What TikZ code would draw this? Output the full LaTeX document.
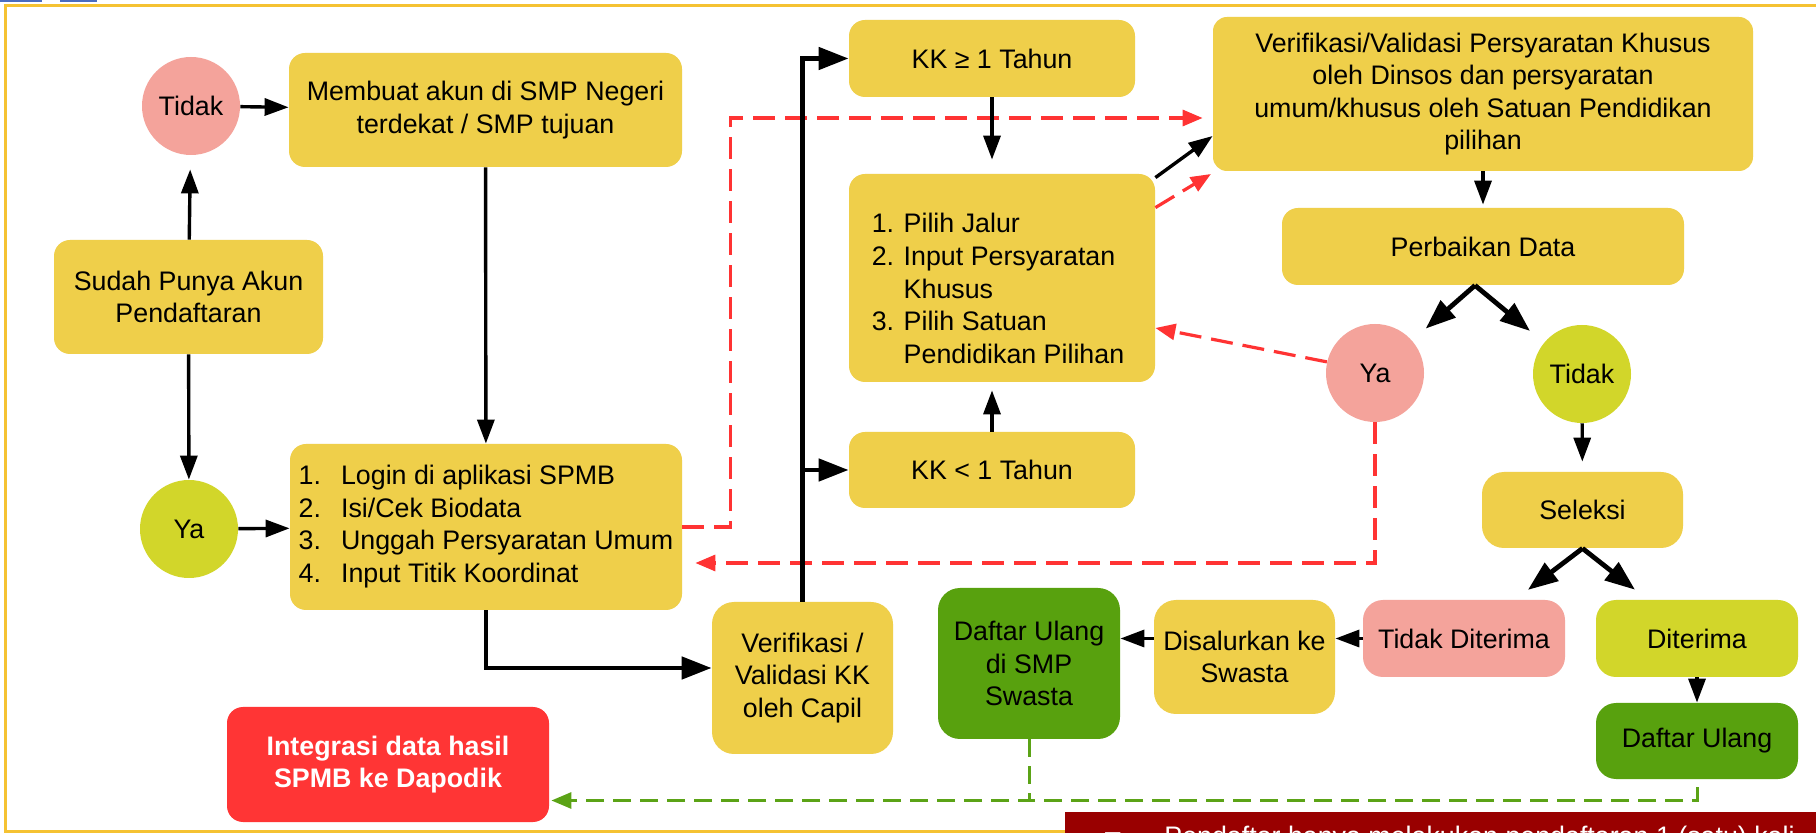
\documentclass[tikz,border=0pt]{standalone}
\usepackage{fontspec}
\setmainfont{Liberation Sans}
\newfontfamily\simbol{DejaVu Sans}
\usetikzlibrary{arrows.meta}
\definecolor{kuning}{HTML}{EFCF4A}
\definecolor{merahmuda}{HTML}{F4A39B}
\definecolor{hijaumuda}{HTML}{D2D62A}
\definecolor{hijau}{HTML}{58A10E}
\definecolor{merah}{HTML}{FF3535}
\definecolor{merahgaris}{HTML}{FF3333}
\definecolor{hijaugaris}{HTML}{5BA316}
\definecolor{merahtua}{HTML}{990000}
\definecolor{bingkai}{HTML}{F5C232}
\definecolor{biru}{HTML}{4A6CC0}
\newcommand{\teks}{\fontsize{13.4}{16.3}\selectfont}

\begin{document}
\begin{tikzpicture}[x=0.5pt, y=-0.5pt, every node/.style={font=\teks, inner sep=0pt, align=center}]
\useasboundingbox (0,0) rectangle (1816,833);
\clip (0,0) rectangle (1816,833);
\fill[white] (0,0) rectangle (1816,833);
\fill[biru] (0,0) rectangle (42,2.5);
\fill[biru] (60,0) rectangle (97,2.5);
\draw[bingkai, line width=1.75pt] (5.5,5.5) rectangle (1900,831.5);

\tikzset{kotak/.style={rounded corners=8pt, fill=kuning}};
\tikzset{ukuran/.style 2 args={minimum width=#1*0.5pt, minimum height=#2*0.5pt}};
\tikzset{bulat/.style={circle, minimum size=49pt}};
\node[bulat, fill=merahmuda] (tidak) at (191,106) {Tidak};
\node[kotak, ukuran={393}{114}] (membuat) at (485.5,110) {Membuat akun di SMP Negeri\\terdekat / SMP tujuan};
\node[kotak, ukuran={269}{114}] (sudah) at (188.5,297) {Sudah Punya Akun\\Pendaftaran};
\node[bulat, fill=hijaumuda] (ya) at (189,529) {Ya};
\node[kotak, ukuran={392}{166}] (login) at (486,527) {\begin{tabular}{@{}l@{\hspace{10pt}}l@{}}
1.&Login di aplikasi SPMB\\
2.&Isi/Cek Biodata\\
3.&Unggah Persyaratan Umum\\
4.&Input Titik Koordinat
\end{tabular}};
\node[kotak, ukuran={181}{152}, rounded corners=11pt] (verifkk) at (802.5,678) {Verifikasi /\\Validasi KK\\oleh Capil};
\node[kotak, ukuran={322}{115}, fill=merah, text=white, font=\teks\bfseries] (integrasi) at (388,764.5) {Integrasi data hasil\\SPMB ke Dapodik};
\node[kotak, ukuran={286}{77}] (kk1) at (992,58.5) {KK ≥ 1 Tahun};
\node[kotak, ukuran={306}{208}] (pilih) at (1002,278) {};
\node (pilihteks) at (998,291.5) {\begin{tabular}{@{}l@{\hspace{4.8pt}}l@{}}
1.&Pilih Jalur\\
2.&Input Persyaratan\\
&Khusus\\
3.&Pilih Satuan\\
&Pendidikan Pilihan
\end{tabular}};
\node[kotak, ukuran={286}{76}] (kk2) at (992,470) {KK < 1 Tahun};
\node[kotak, ukuran={540}{154}, rounded corners=7pt] (verifpers) at (1483,94) {Verifikasi/Validasi Persyaratan Khusus\\oleh Dinsos dan persyaratan\\umum/khusus oleh Satuan Pendidikan\\pilihan};
\node[kotak, ukuran={402}{77}] (perbaikan) at (1483,246.5) {Perbaikan Data};
\node[bulat, fill=merahmuda] (yakanan) at (1375,373) {Ya};
\node[bulat, fill=hijaumuda] (tidakkanan) at (1582,374) {Tidak};
\node[kotak, ukuran={201}{76}, rounded corners=11pt] (seleksi) at (1582.5,510) {Seleksi};
\node[kotak, ukuran={202}{77}, fill=merahmuda, rounded corners=10pt] (tidakditerima) at (1464,638.5) {Tidak Diterima};
\node[kotak, ukuran={202}{77}, fill=hijaumuda, rounded corners=10pt] (diterima) at (1697,638.5) {Diterima};
\node[kotak, ukuran={202}{76}, fill=hijau, rounded corners=10pt] (daftarulang) at (1697,741) {Daftar Ulang};
\node[kotak, ukuran={181}{114}, rounded corners=11pt] (disalurkan) at (1244.5,657) {Disalurkan ke\\Swasta};
\node[kotak, ukuran={182}{151}, fill=hijau, rounded corners=11pt] (daftarswasta) at (1029,663.5) {Daftar Ulang\\di SMP\\Swasta};
\fill[merahtua] (1065,812) rectangle (1830,850);
\node[anchor=base west, text=white] (catatan) at (1103,845) {\makebox[30.5pt][l]{\simbol\fontsize{10}{10}\selectfont ■}Pendaftar hanya melakukan pendaftaran 1 (satu) kali};

\tikzset{panah/.style={-{Triangle[length=10pt,width=8pt]}, line width=1.6pt, merahgaris, dash pattern=on 11pt off 5pt}};
\draw [panah, shorten >=5pt] (login.east) -- ++(48,0) |- ([yshift=-12pt]verifpers.west);
\draw [panah, shorten >=1pt] ([yshift=-17pt]pilih.north east) -- ([yshift=-39.5pt]verifpers.west);
\draw [panah] (yakanan.167) -- ([yshift=-25pt]pilih.east);
\draw [panah, shorten >=6.5pt] (yakanan.south) |- ([yshift=-18pt]login.east);

\tikzset{panah/.style={-{Triangle[length=10pt,width=8pt]}, line width=1.5pt, hijaugaris, dash pattern=on 9pt off 4.5pt}};
\draw [panah, shorten >=1pt] (daftarswasta.south) |- ([yshift=-18pt]integrasi.east);
\draw [panah, -] ([yshift=-4pt]daftarulang.south) |- ([yshift=-30.5pt]daftarswasta.south);

\tikzset{panah/.style={-{Triangle[length=12pt,width=8.5pt]}, line width=1.7pt}};
\path (sudah) edge [panah, shorten >=7pt] (tidak);
\path (tidak) edge [panah] (membuat);
\path (sudah) edge [panah] (ya);
\path (ya) edge [panah] (login);
\path (membuat) edge [panah] (login);
\path (kk1) edge [panah, shorten >=7pt] (kk1 |- pilih.north);
\path (kk2) edge [panah, shorten >=4pt] (kk2 |- pilih.south);
\path (verifpers) edge [panah, shorten >=1.5pt] (perbaikan);
\path (tidakkanan) edge [panah, shorten >=5pt] (seleksi);
\path (diterima) edge [panah] (daftarulang);
\draw [panah] (tidakditerima.west) -- (tidakditerima.west -| disalurkan.east);
\draw [panah] (tidakditerima.west -| disalurkan.west) -- (tidakditerima.west -| daftarswasta.east);
\draw [panah] ([yshift=-2pt]pilih.north east) -- ([yshift=-21pt]verifpers.west);

\tikzset{panah/.style={-{Triangle[length=15pt,width=11pt]}, line width=2.4pt}};
\draw [panah] (login.south) |- ([yshift=5pt]verifkk.west);
\draw [panah] (verifkk.north) |- (kk1.west);
\draw [panah] (verifkk.north |- kk2.west) -- (kk2.west);
\path ([xshift=-4pt]perbaikan.south) edge [panah, shorten >=9pt] (yakanan);
\path ([xshift=-4pt]perbaikan.south) edge [panah, shorten >=9pt] (tidakkanan);
\path (seleksi.south) edge [panah, shorten >=8pt] (tidakditerima);
\path (seleksi.south) edge [panah, shorten >=8pt] (diterima);
\end{tikzpicture}
\end{document}
